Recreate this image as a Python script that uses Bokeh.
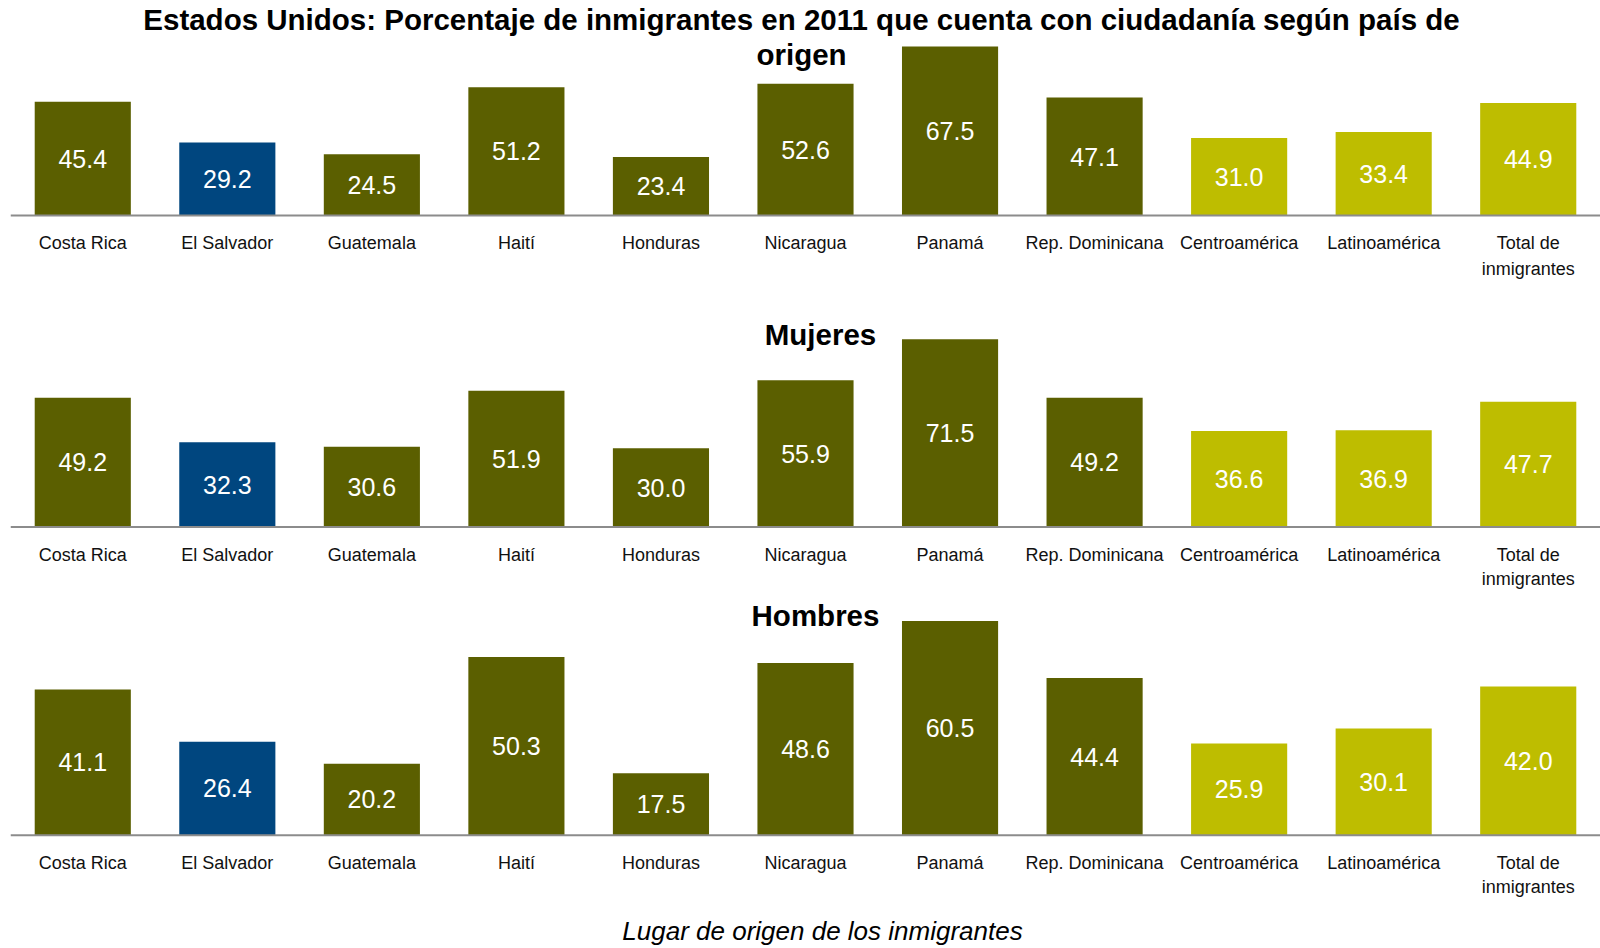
from bokeh.plotting import figure
from bokeh.models import Range1d, FactorRange, Label, ColumnDataSource, Span
from bokeh.layouts import column
from bokeh.core.properties import value
from bokeh.embed import file_html
from bokeh.resources import INLINE

# ---- data ----
categories = ["Costa Rica", "El Salvador", "Guatemala", "Haití", "Honduras", "Nicaragua",
              "Panamá", "Rep. Dominicana", "Centroamérica", "Latinoamérica", "Total de inmigrantes"]
label_line1 = ["Costa Rica", "El Salvador", "Guatemala", "Haití", "Honduras", "Nicaragua",
               "Panamá", "Rep. Dominicana", "Centroamérica", "Latinoamérica", "Total de"]
label_line2 = ["", "", "", "", "", "", "", "", "", "", "inmigrantes"]
group = ["pais", "salvador", "pais", "pais", "pais", "pais",
         "pais", "pais", "agregado", "agregado", "agregado"]
total_vals = [45.4, 29.2, 24.5, 51.2, 23.4, 52.6, 67.5, 47.1, 31.0, 33.4, 44.9]
mujeres_vals = [49.2, 32.3, 30.6, 51.9, 30.0, 55.9, 71.5, 49.2, 36.6, 36.9, 47.7]
hombres_vals = [41.1, 26.4, 20.2, 50.3, 17.5, 48.6, 60.5, 44.4, 25.9, 30.1, 42.0]

title_main_1 = "Estados Unidos: Porcentaje de inmigrantes en 2011 que cuenta con ciudadanía según país de"
title_main_2 = "origen"
title_muj = "Mujeres"
title_hom = "Hombres"
xlabel = "Lugar de origen de los inmigrantes"

# ---- style ----
palette = {"pais": "#5b5f00", "salvador": "#00467f", "agregado": "#bebd00"}
W = 1600
LEFT = 10
FONT = "Liberation Sans"


def panel(vals, top, height, base, scale, lab1_py, lab2_py, texts):
    # page-pixel helpers: y (data) for a page y position
    def yd(py):
        return (base - py) / scale

    p = figure(x_range=FactorRange(*categories, range_padding=0),
               y_range=Range1d(yd(top + height), yd(top)),
               width=W, height=height, output_backend="svg", toolbar_location=None,
               min_border_left=LEFT, min_border_right=0, min_border_top=0,
               min_border_bottom=0, x_axis_location=None, y_axis_location=None)
    p.outline_line_color = None
    p.xgrid.grid_line_color = None
    p.ygrid.grid_line_color = None
    p.background_fill_color = "white"
    p.border_fill_color = "white"

    src = ColumnDataSource(dict(
        cat=categories, val=vals, mid=[v / 2 for v in vals],
        txt=["%.1f" % v for v in vals], color=[palette[g] for g in group],
        l1=label_line1, l2=label_line2,
        y1=[yd(lab1_py)] * len(categories), y2=[yd(lab2_py)] * len(categories)))
    p.vbar(x="cat", top="val", bottom=0, width=0.665, source=src, fill_color="color",
           line_color=None)
    p.text(x="cat", y="mid", text="txt", source=src, text_color="white",
           text_font=value(FONT), text_font_size="25px",
           text_align="center", text_baseline="middle")
    p.add_layout(Span(location=0, dimension="width", line_color="#8c8c8c", line_width=2))
    for col in ("l1", "l2"):
        p.text(x="cat", y="y1" if col == "l1" else "y2", text=col, source=src,
               text_color="#111111", text_font=value(FONT), text_font_size="18px",
               text_align="center", text_baseline="middle")

    for (txt, px, py, size, style) in texts:
        p.add_layout(Label(x=px - LEFT, x_units="screen", y=yd(py), y_units="data", text=txt,
                           text_font=FONT, text_font_size=size,
                           text_font_style=style, text_color="black",
                           text_align="center", text_baseline="middle"))
    return p


p1 = panel(total_vals, 0, 300, 215.0, 169.0 / 67.5, 242.9, 268.4,
           [(title_main_1, 801, 19.4, "29.5px", "bold"),
            (title_main_2, 801, 54.1, "29.5px", "bold")])
p2 = panel(mujeres_vals, 300, 298, 526.5, 187.7 / 71.5, 554.0, 578.6,
           [(title_muj, 820, 333.7, "29.5px", "bold")])
p3 = panel(hombres_vals, 598, 350, 834.7, 214.3 / 60.5, 862.2, 886.7,
           [(title_hom, 815, 615.3, "29.5px", "bold"),
            (xlabel, 822, 930.6, "26px", "italic")])

p = column(p1, p2, p3, spacing=0)

open("out.html", "w").write(file_html(p, INLINE))
